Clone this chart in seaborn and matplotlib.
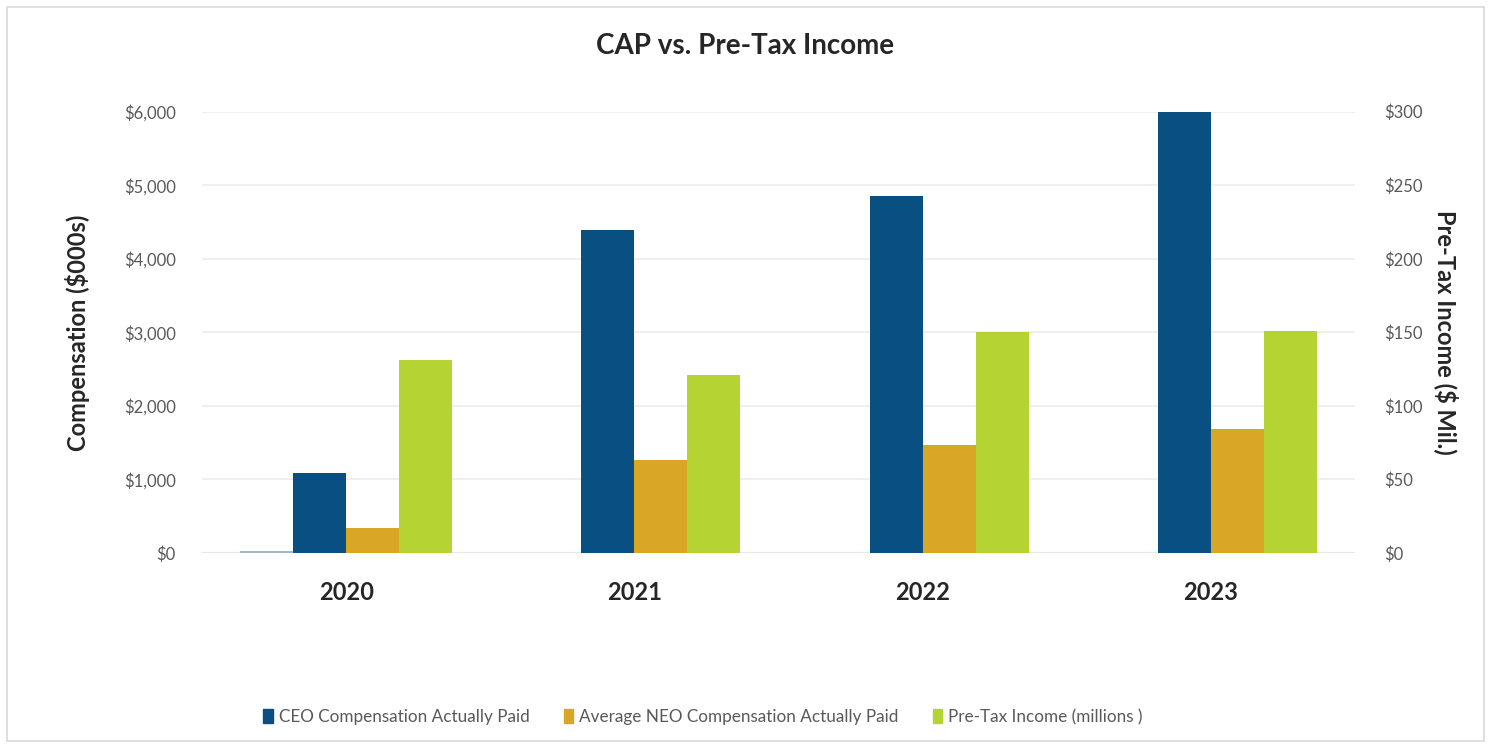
import pandas as pd
import seaborn as sns
import matplotlib.pyplot as plt
from matplotlib.patches import Rectangle
from matplotlib.ticker import FuncFormatter

# dados
years = ["2020", "2021", "2022", "2023"]
placeholder = [25, 0, 0, 0]            # série vazia (sem legenda)
ceo_cap = [1087, 4385, 4860, 6000]     # $000s
neo_cap = [340, 1260, 1470, 1681]      # $000s
pretax = [131, 121, 150, 151]          # $ milhões (eixo direito)

series = ["Blank", "CEO Compensation Actually Paid",
          "Average NEO Compensation Actually Paid", "Pre-Tax Income (millions )"]
colors = ["#9db7cf", "#0a4f82", "#daa626", "#b5d332"]

zeros = [0] * len(years)
df_left = pd.DataFrame({
    "Year": years * 4,
    "Series": [s for s in series for _ in years],
    "Value": placeholder + ceo_cap + neo_cap + zeros,
})
df_right = pd.DataFrame({
    "Year": years * 4,
    "Series": [s for s in series for _ in years],
    "Value": zeros + zeros + zeros + pretax,
})

sns.set_style("white")
plt.rcParams["font.family"] = ["Lato", "DejaVu Sans"]

fig = plt.figure(figsize=(14.91, 7.47), dpi=100)
ax = fig.add_axes([0.1355, 0.2597, 0.7733, 0.5908])
ax2 = ax.twinx()

sns.barplot(data=df_left, x="Year", y="Value", hue="Series", hue_order=series,
            palette=colors, saturation=1, width=0.736, gap=0, ax=ax,
            legend=False, linewidth=0, errorbar=None)
sns.barplot(data=df_right, x="Year", y="Value", hue="Series", hue_order=series,
            palette=colors, saturation=1, width=0.736, gap=0, ax=ax2,
            legend=False, linewidth=0, errorbar=None)

ax.set_ylim(0, 6000)
ax2.set_ylim(0, 300)
ax.set_yticks(range(0, 6001, 1000))
ax2.set_yticks(range(0, 301, 50))
ax.yaxis.set_major_formatter(FuncFormatter(lambda v, p: f"${v:,.0f}"))
ax2.yaxis.set_major_formatter(FuncFormatter(lambda v, p: f"${v:,.0f}"))
ax.set_xlim(-0.5, 3.5)

ax.set_axisbelow(True)
ax.grid(axis="y", color="#ececec", linewidth=1.2)
ax.axhline(0, color="#d0d0d0", linewidth=1.5, zorder=0.5)
for a in (ax, ax2):
    for sp in a.spines.values():
        sp.set_visible(False)
    a.tick_params(length=0)

ax.tick_params(axis="y", labelsize=12, labelcolor="#595959", pad=19)
ax2.tick_params(axis="y", labelsize=12, labelcolor="#595959", pad=21)
ax.tick_params(axis="x", labelsize=17, pad=20)
for lbl in ax.get_xticklabels():
    lbl.set_fontweight("bold")
    lbl.set_color("#262626")

ax.set_xlabel("")
ax.set_ylabel("Compensation ($000s)", fontsize=17, fontweight="bold",
              color="#262626", labelpad=24)
ax2.set_ylabel("Pre-Tax Income ($ Mil.)", fontsize=17, fontweight="bold",
               color="#262626", rotation=270, labelpad=26)

fig.text(0.5, 0.938, "CAP vs. Pre-Tax Income", ha="center", va="center",
         fontsize=20, fontweight="bold", color="#262626")

handles = [Rectangle((0, 0), 1, 1, color=c) for c in colors[1:]]
fig.legend(handles, series[1:], loc="center", bbox_to_anchor=(0.4715, 0.04),
           ncol=3, frameon=False, fontsize=12.3, labelcolor="#595959",
           handlelength=0.55, handleheight=0.9, handletextpad=0.35,
           columnspacing=2.0)

# moldura externa
fig.patches.append(Rectangle((0.005, 0.008), 0.99, 0.983, transform=fig.transFigure,
                             fill=False, edgecolor="#d9d9d9", linewidth=1.2))

plt.savefig("out.png", dpi=100)
